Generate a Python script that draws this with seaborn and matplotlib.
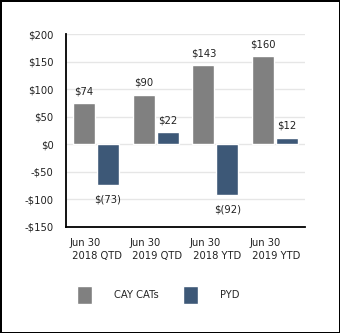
import matplotlib
matplotlib.use("Agg")
import matplotlib.pyplot as plt
import seaborn as sns
import pandas as pd

categories = ["Jun 30\n 2018 QTD", "Jun 30\n 2019 QTD", "Jun 30\n 2018 YTD", "Jun 30\n 2019 YTD"]
cay_cats = [74, 90, 143, 160]
pyd = [-73, 22, -92, 12]
series = ["CAY CATs", "PYD"]
label_cay = ["$74", "$90", "$143", "$160"]
label_pyd = ["$(73)", "$22", "$(92)", "$12"]
yticks = [200, 150, 100, 50, 0, -50, -100, -150]
ytick_labels = ["$200", "$150", "$100", "$50", "$0", "-$50", "-$100", "-$150"]

df = pd.DataFrame({
    "cat": categories * 2,
    "val": cay_cats + pyd,
    "series": [series[0]] * 4 + [series[1]] * 4,
})

sns.set_style("white")
plt.rcParams["font.family"] = ["DejaVu Sans"]

fig = plt.figure(figsize=(3.4, 3.33), dpi=100, linewidth=2.0, edgecolor="black")
ax = fig.add_axes([66/340, 1-227/333, (305-66)/340, (227-34)/333])
palette = {"CAY CATs": "#808080", "PYD": "#3d5877"}
sns.barplot(data=df, x="cat", y="val", hue="series", palette=palette, ax=ax,
            width=0.8, gap=0.08, saturation=1, legend=True)

ax.set_ylim(-150, 200)
ax.set_xlim(-0.5, 3.5)
ax.set_yticks(yticks)
ax.set_yticklabels(ytick_labels, fontsize=7.2, color="#222222")
ax.tick_params(axis="both", length=0, pad=9)
ax.set_xticks(range(4))
ax.set_xticklabels(categories, fontsize=7.2, color="#222222", ha="center",
                   multialignment="left", linespacing=1.3)
ax.tick_params(axis="x", pad=8)
ax.set_xlabel("")
ax.set_ylabel("")
ax.yaxis.grid(True, color="#e6e6e6", linewidth=1)
ax.set_axisbelow(True)
for s in ["top", "right"]:
    ax.spines[s].set_visible(False)
for s in ["left", "bottom"]:
    ax.spines[s].set_color("black")
    ax.spines[s].set_linewidth(1.3)

labels_all = [label_cay, label_pyd]
for ci, cont in enumerate(ax.containers):
    for bi, bar in enumerate(cont):
        v = bar.get_height()
        xc = bar.get_x() + bar.get_width() / 2
        if v >= 0:
            ax.annotate(labels_all[ci][bi], (xc, v), xytext=(0, 5), textcoords="offset points",
                        ha="center", va="bottom", fontsize=7.2, color="#222222")
        else:
            ax.annotate(labels_all[ci][bi], (xc, v), xytext=(0, -7), textcoords="offset points",
                        ha="center", va="top", fontsize=7.2, color="#222222")

leg = ax.get_legend()
handles = leg.legend_handles
leg.remove()
fig.legend(handles, series, loc="center", bbox_to_anchor=(158/340, 1-295/333), ncol=2,
           frameon=False, fontsize=7.2, handlelength=1.5, handleheight=2.3,
           handletextpad=2.2, columnspacing=2.4)

fig.savefig("out.png", dpi=100)
